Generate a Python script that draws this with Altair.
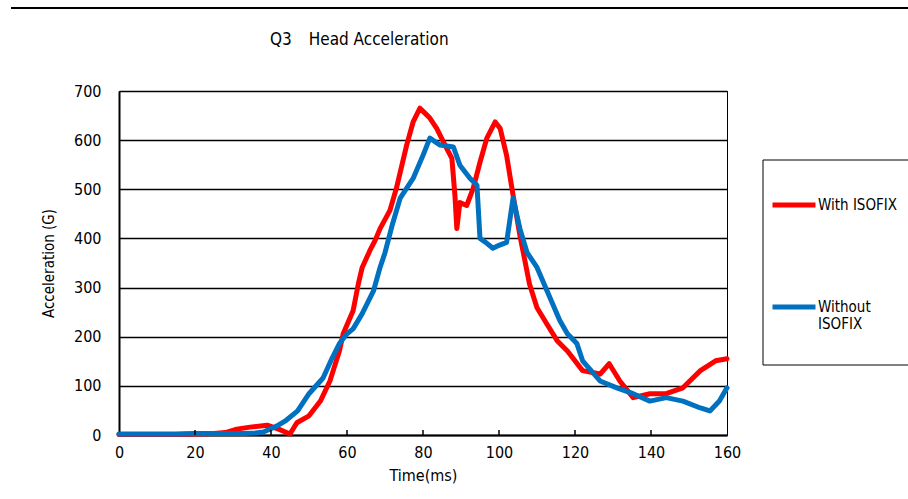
import altair as alt
import pandas as pd

series_names = ["With ISOFIX", "Without ISOFIX"]
series_colors = ["#FF0000", "#0070C0"]

with_t = [0, 5, 10, 15, 20, 25, 28, 31, 34.5, 39, 42, 45, 46.8, 50, 53, 55.5, 58, 59, 61.6, 63, 64,
          66, 67.4, 68.7, 71.3, 73, 75.7, 77.4, 79.2, 80.5, 81.8, 83.6, 86.2, 87.6, 88.4, 88.9, 89.7,
          91.5, 93.2, 95, 96.8, 99, 100.3, 102, 103.7, 105.5, 106.3, 108, 110, 112.6, 115.3, 118,
          122, 126.6, 129, 131.8, 135.3, 139.7, 144, 148.4, 153, 157, 160]
with_g = [1, 1, 1, 1, 2, 3, 5, 12, 16, 20, 12, 2, 25, 39, 69, 110, 171, 206, 253, 308, 341,
          375, 396, 420, 457, 502, 590, 637, 665, 655, 645, 624, 584, 563, 488, 420, 473,
          467, 502, 555, 604, 637, 624, 569, 488, 406, 375, 308, 259, 226, 192, 171,
          131, 124, 145, 110, 76, 84, 84, 96, 131, 151, 155]

without_t = [0, 5, 10, 15, 20, 25, 30, 33, 36, 38, 41.5, 44, 47, 50, 53.7, 56, 58, 60, 61.6, 64, 67,
             68.7, 70, 72, 74, 77.4, 80, 81.8, 84.5, 88, 89.7, 92.4, 94.2, 95, 96.5, 98.4, 100, 102,
             103.7, 105.5, 107.4, 110, 112.6, 116, 118, 120.5, 122, 126.6, 131, 135.3, 139.7, 144,
             148.4, 153, 155.5, 158, 160]
without_g = [2, 2, 2, 2, 3, 3, 3, 3, 4, 6, 18, 30, 49, 84, 116, 155, 186, 206, 216, 247, 294,
             341, 371, 430, 482, 522, 569, 604, 590, 586, 549, 522, 508, 400, 392, 380, 386, 392,
             482, 420, 371, 341, 294, 233, 206, 186, 151, 110, 96, 84, 69, 76,
             69, 55, 49, 69, 96]

x_ticks = [0, 20, 40, 60, 80, 100, 120, 140, 160]
y_ticks = [0, 100, 200, 300, 400, 500, 600, 700]

title_text = "Q3\u3000Head Acceleration"
x_title = "Time(ms)"
y_title = "Acceleration (G)"

rows = []
for name, ts, gs in [(series_names[0], with_t, with_g), (series_names[1], without_t, without_g)]:
    for t, g in zip(ts, gs):
        rows.append({"series": name, "t": t, "g": g})
df = pd.DataFrame(rows)
df["order"] = range(len(df))

W, H = 608, 344
FONT = "Liberation Sans Narrow, DejaVu Sans Condensed, Liberation Sans"

lines = alt.Chart(df).mark_line(strokeWidth=5, strokeCap="round", strokeJoin="round").encode(
    x=alt.X("t:Q", scale=alt.Scale(domain=[0, 160], nice=False),
            axis=alt.Axis(values=x_ticks, title=x_title, grid=False, ticks=False, labelFlush=False,
                          labelPadding=9, titlePadding=7, titleFontSize=16, format="d")),
    y=alt.Y("g:Q", scale=alt.Scale(domain=[0, 700], nice=False),
            axis=alt.Axis(values=y_ticks, title=y_title, grid=True, ticks=False,
                          labelPadding=18, titlePadding=17, titleFontSize=15, format="d")),
    color=alt.Color("series:N", scale=alt.Scale(domain=series_names, range=series_colors),
                    legend=alt.Legend(title=None, orient="none", legendX=651, legendY=90,
                                      symbolType="stroke", symbolSize=43 * 43, symbolStrokeWidth=5,
                                      labelFont=FONT, labelFontSize=15, labelOffset=0,
                                      labelColor="black", rowPadding=68, padding=0,
                                      labelBaseline="middle",
                                      labelExpr="datum.label == 'Without ISOFIX' ? ['Without', 'ISOFIX'] : datum.label")),
    order="order:Q",
)

tick_df = pd.DataFrame({"t": x_ticks[1:-1]})
tick_marks = alt.Chart(tick_df).mark_rule(color="black", strokeWidth=1.5).encode(
    x="t:Q", y=alt.value(H), y2=alt.value(H - 5)
)

frame = alt.Chart(pd.DataFrame({"k": [0]})).mark_rect(fill="white", stroke="black", strokeWidth=1).encode(
    x=alt.value(644), x2=alt.value(820), y=alt.value(69), y2=alt.value(274)
)

top_rule = alt.Chart(pd.DataFrame({"k": [0]})).mark_rule(color="black", strokeWidth=2).encode(
    x=alt.value(-108), x2=alt.value(800), y=alt.value(-83)
)

title_mark = alt.Chart(pd.DataFrame({"txt": [title_text]})).mark_text(
    align="left", baseline="middle", font=FONT, fontSize=17, color="black"
).encode(text="txt:N", x=alt.value(151), y=alt.value(-51))

chart = alt.layer(frame, top_rule, title_mark, lines, tick_marks).properties(
    width=W, height=H,
    autosize=alt.AutoSizeParams(type="none"),
    padding={"left": 119, "top": 91, "right": 181, "bottom": 64},
    background="white",
).configure_view(
    stroke="black", strokeWidth=1
).configure_axis(
    domainColor="black", domainWidth=2, gridColor="black", gridWidth=1.5,
    labelColor="black", labelFont=FONT, labelFontSize=16,
    titleColor="black", titleFont=FONT, titleFontSize=14, titleFontWeight="normal",
)

chart.save("out.html", embed_options={"renderer": "svg", "actions": False})
